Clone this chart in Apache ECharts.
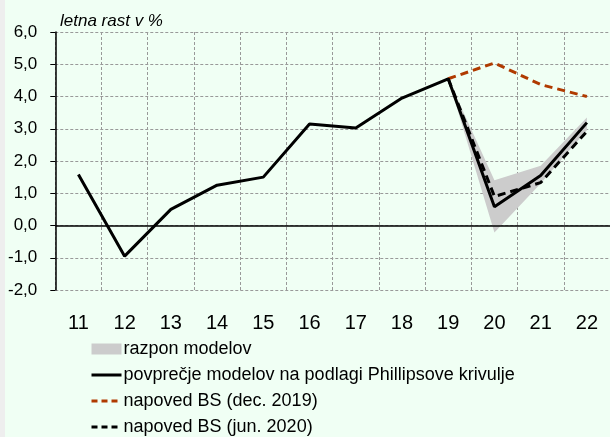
<!DOCTYPE html>
<html><head><meta charset="utf-8">
<script src="https://cdn.jsdelivr.net/npm/echarts@6/dist/echarts.min.js"></script>
<style>html,body{margin:0;padding:0;background:#eeeeee;}#c{position:absolute;left:5px;top:0;width:605px;height:437px;background:#F0FFF4;}</style>
</head><body><div id="c"></div>
<script>
var categories = ['11','12','13','14','15','16','17','18','19','20','21','22'];
var yTicks = [-2, -1, 0, 1, 2, 3, 4, 5, 6];
var avgModels = [1.58, -0.95, 0.5, 1.25, 1.5, 3.15, 3.02, 3.95, 4.55, 0.58, 1.55, 3.19];
var forecastDec2019 = [null, null, null, null, null, null, null, null, 4.55, 5.04, 4.37, 4.0];
var forecastJun2020 = [null, null, null, null, null, null, null, null, 4.55, 0.9, 1.33, 2.92];
var rangeLow = [null, null, null, null, null, null, null, null, 4.55, -0.22, 1.3, 2.95];
var rangeHigh = [null, null, null, null, null, null, null, null, 4.55, 1.4, 1.85, 3.35];
var rangeDiff = rangeHigh.map(function(v, i){ return v == null ? null : +(v - rangeLow[i]).toFixed(3); });

var FONT = "'Liberation Sans', Arial, sans-serif";
var chart = echarts.init(document.getElementById('c'), null, {renderer: 'canvas'});
chart.setOption({
  backgroundColor: '#F0FFF4',
  animation: false,
  title: {
    text: 'letna rast v %', left: 55, top: 13, padding: 0,
    textStyle: {fontFamily: FONT, fontStyle: 'italic', fontWeight: 'normal', fontSize: 17, color: '#000'}
  },
  grid: {left: 49, top: 32, width: 558, height: 258},
  legend: {
    orient: 'vertical', left: 85, top: 340, padding: 0, itemGap: 8, itemWidth: 30, itemHeight: 11,
    height: 120,
    textStyle: {fontFamily: FONT, fontSize: 18, color: '#000', padding: [0,0,0,-3]},
    data: [
      {name: 'razpon modelov', icon: 'rect', itemStyle: {color: '#cccccc'}},
      {name: 'povprečje modelov na podlagi Phillipsove krivulje', itemStyle: {opacity: 0},
        lineStyle: {width: 3, color: '#000'}},
      {name: 'napoved BS (dec. 2019)', itemStyle: {opacity: 0},
        lineStyle: {width: 3, color: '#B03A00', type: [6, 4]}},
      {name: 'napoved BS (jun. 2020)', itemStyle: {opacity: 0},
        lineStyle: {width: 3, color: '#000', type: [6, 4]}}
    ]
  },
  xAxis: {
    type: 'category', data: categories, boundaryGap: true,
    axisLine: {show: false, onZero: false},
    axisTick: {show: false},
    axisLabel: {fontFamily: FONT, fontSize: 20, color: '#000', margin: 23, interval: 0},
    splitLine: {show: true, interval: 0, lineStyle: {color: '#999999', type: [3, 2], width: 1}}
  },
  yAxis: {
    type: 'value', min: -2, max: 6, interval: 1,
    axisLine: {show: true, lineStyle: {color: '#000', width: 1.5}},
    axisTick: {show: true, inside: false, length: 5, lineStyle: {color: '#000'}},
    axisLabel: {fontFamily: FONT, fontSize: 17, color: '#000', margin: 18,
      formatter: function(v){ return yTicks.indexOf(v) >= 0 ? v.toFixed(1).replace('.', ',') : ''; }},
    splitLine: {show: true, lineStyle: {color: '#999999', type: [3, 2], width: 1}}
  },
  series: [
    {name: 'razpon_base', type: 'line', data: rangeLow, stack: 'range', stackStrategy: 'all',
      symbol: 'none', lineStyle: {opacity: 0}, silent: true, legendHoverLink: false},
    {name: 'razpon modelov', type: 'line', data: rangeDiff, stack: 'range', stackStrategy: 'all',
      symbol: 'none', lineStyle: {opacity: 0}, areaStyle: {color: '#cccccc', opacity: 1},
      itemStyle: {color: '#cccccc'}},
    {name: 'povprečje modelov na podlagi Phillipsove krivulje', type: 'line', data: avgModels,
      symbol: 'none', z: 5, lineStyle: {color: '#000', width: 3}, itemStyle: {color: '#000'},
      markLine: {silent: true, symbol: 'none', label: {show: false},
        lineStyle: {color: '#000', width: 1.5, type: 'solid'}, data: [{yAxis: 0}]}},
    {name: 'napoved BS (dec. 2019)', type: 'line', data: forecastDec2019, symbol: 'none', z: 4,
      lineStyle: {color: '#B03A00', width: 3, type: [8, 5]}, itemStyle: {color: '#B03A00'}},
    {name: 'napoved BS (jun. 2020)', type: 'line', data: forecastJun2020, symbol: 'none', z: 6,
      lineStyle: {color: '#000', width: 3, type: [8, 5]}, itemStyle: {color: '#000'}}
  ]
});
</script></body></html>
